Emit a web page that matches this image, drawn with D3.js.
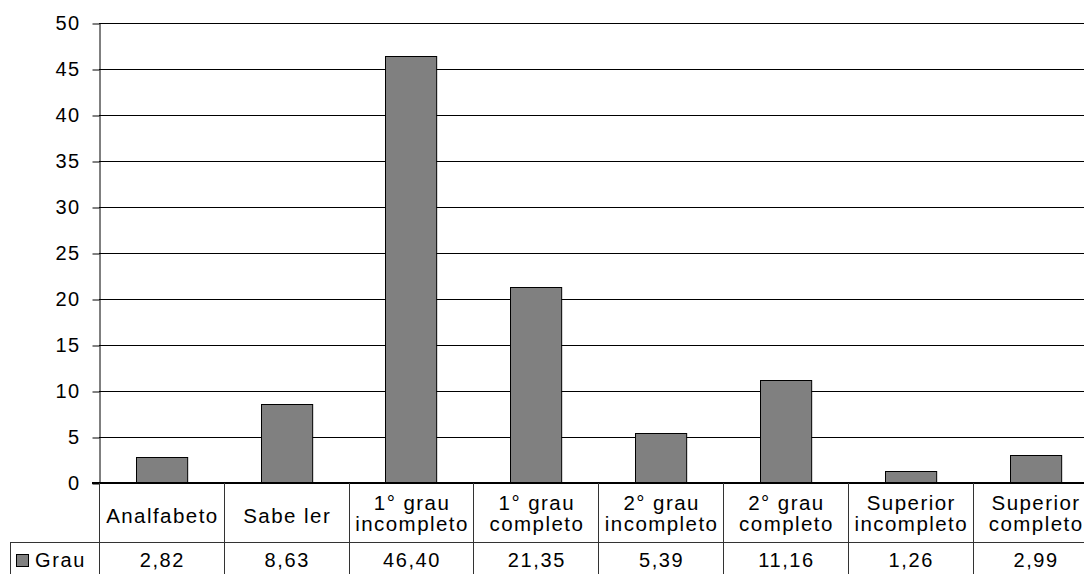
<!DOCTYPE html>
<html>
<head>
<meta charset="utf-8">
<script src="https://cdn.jsdelivr.net/npm/d3@7"></script>
<style>
  html, body { margin: 0; padding: 0; background: #fff; }
  svg { display: block; }
  text { font-family: "Liberation Sans", Arial, sans-serif; fill: #000; }
</style>
</head>
<body>
<svg id="chart" width="1084" height="574"></svg>
<script>
// Escolaridade: percentual por grau de instrução
const categories = [
  ["Analfabeto"],
  ["Sabe ler"],
  ["1° grau", "incompleto"],
  ["1° grau", "completo"],
  ["2° grau", "incompleto"],
  ["2° grau", "completo"],
  ["Superior", "incompleto"],
  ["Superior", "completo"]
];
const values = [2.82, 8.63, 46.40, 21.35, 5.39, 11.16, 1.26, 2.99];
const valueLabels = ["2,82", "8,63", "46,40", "21,35", "5,39", "11,16", "1,26", "2,99"];
const yTicks = [0, 5, 10, 15, 20, 25, 30, 35, 40, 45, 50];
const seriesName = "Grau";

const svg = d3.select("#chart");
const W = 1084, H = 574;
const plotLeft = 99, plotRight = 1097.5, plotTop = 23, base = 483;
const rowSplit = 542;
const keys = categories.map((c, i) => i);

const x = d3.scaleBand().domain(keys).range([plotLeft, plotRight])
  .paddingInner(0.59).paddingOuter(0.295);
const col = d3.scaleBand().domain(keys).range([plotLeft, plotRight]);
const y = d3.scaleLinear().domain([0, 50]).range([base, plotTop]);

// horizontal gridlines
svg.append("g").selectAll("line")
  .data(yTicks.filter(t => t > 0))
  .join("line")
  .attr("x1", plotLeft).attr("x2", W)
  .attr("y1", d => Math.round(y(d)) + 0.5).attr("y2", d => Math.round(y(d)) + 0.5)
  .attr("stroke", "#000").attr("stroke-width", 1);

// y axis
const yAxis = svg.append("g")
  .attr("transform", `translate(${plotLeft + 0.5},0.5)`)
  .call(d3.axisLeft(y).tickValues(yTicks).tickSize(7).tickPadding(12).tickSizeOuter(0));
yAxis.select(".domain").attr("stroke", "#000");
yAxis.selectAll(".tick line").attr("stroke", "#000");
yAxis.selectAll(".tick text")
  .attr("font-size", 20)
  .attr("letter-spacing", "1.4px")
  .attr("font-family", "Liberation Sans, Arial, sans-serif")
  .attr("fill", "#000");

// bars
svg.append("g").selectAll("rect")
  .data(values)
  .join("rect")
  .attr("x", (d, i) => Math.round(x(i)) + 0.5)
  .attr("y", d => Math.round(y(d)) + 0.5)
  .attr("width", x.bandwidth())
  .attr("height", d => base - Math.round(y(d)))
  .attr("fill", "#808080")
  .attr("stroke", "#000")
  .attr("stroke-width", 1);

// data table
const table = svg.append("g");
// baseline (zero line)
table.append("line")
  .attr("x1", plotLeft - 7).attr("x2", W)
  .attr("y1", base).attr("y2", base)
  .attr("stroke", "#000").attr("stroke-width", 2);
// row separator
table.append("line")
  .attr("x1", 10).attr("x2", W)
  .attr("y1", rowSplit + 0.5).attr("y2", rowSplit + 0.5)
  .attr("stroke", "#333");
// left border of value row
table.append("line")
  .attr("x1", 10.5).attr("x2", 10.5)
  .attr("y1", rowSplit).attr("y2", H)
  .attr("stroke", "#333");
// column dividers
table.selectAll(".div")
  .data(keys.concat([keys.length]))
  .join("line")
  .attr("class", "div")
  .attr("x1", i => Math.round(i < keys.length ? col(i) : plotRight) + 0.5)
  .attr("x2", i => Math.round(i < keys.length ? col(i) : plotRight) + 0.5)
  .attr("y1", base).attr("y2", H)
  .attr("stroke", "#333");

// category labels
const catText = table.selectAll(".cat")
  .data(categories)
  .join("text")
  .attr("class", "cat")
  .attr("text-anchor", "middle")
  .attr("font-size", 20.5)
  .attr("letter-spacing", "1.45px");
catText.each(function(lines, i) {
  const cx = col(i) + col.bandwidth() / 2 + 1;
  const t = d3.select(this);
  if (lines.length === 1) {
    t.append("tspan").attr("x", cx).attr("y", 523).text(lines[0]);
  } else {
    t.append("tspan").attr("x", cx).attr("y", 510).text(lines[0]);
    t.append("tspan").attr("x", cx).attr("y", 531).text(lines[1]);
  }
});

// value row
table.selectAll(".val")
  .data(valueLabels)
  .join("text")
  .attr("class", "val")
  .attr("text-anchor", "middle")
  .attr("font-size", 20)
  .attr("letter-spacing", "1.6px")
  .attr("x", (d, i) => col(i) + col.bandwidth() / 2 + 1)
  .attr("y", 567)
  .text(d => d);

// legend key
table.append("rect")
  .attr("x", 16.5).attr("y", 554.5)
  .attr("width", 12).attr("height", 12)
  .attr("fill", "#808080").attr("stroke", "#000");
table.append("text")
  .attr("x", 35).attr("y", 567)
  .attr("font-size", 20)
  .attr("letter-spacing", "1.6px")
  .text(seriesName);
</script>
</body>
</html>
